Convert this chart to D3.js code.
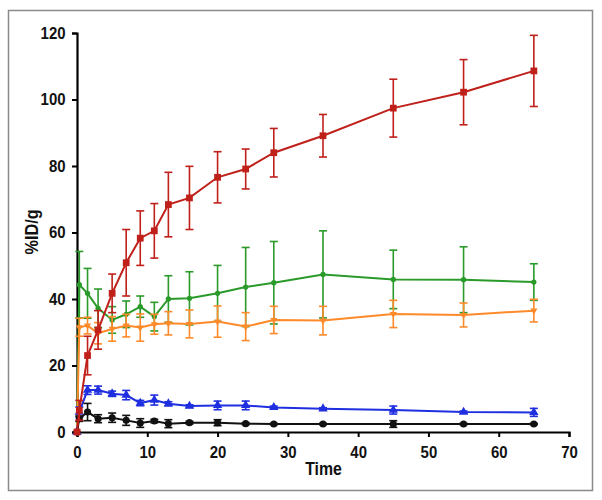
<!DOCTYPE html>
<html><head><meta charset="utf-8">
<script src="https://cdn.jsdelivr.net/npm/d3@7"></script>
<style>body{margin:0;background:#fff}svg{display:block}</style>
</head><body>
<svg id="c" width="602" height="500"></svg>
<script>
const times = [0, 0.33, 1.5, 3, 5, 7, 9, 11, 13, 16, 20, 24, 28, 35, 45, 55, 65];
const red = [0, 6.5, 23.0, 30.7, 41.7, 50.9, 58.3, 60.5, 68.4, 70.4, 76.6, 79.1, 84.0, 89.1, 97.4, 102.2, 108.6];
const redErr = [0, 3, 5.8, 5.8, 5.8, 10, 8.2, 8.2, 9.7, 9.5, 7.7, 6, 7.3, 6.4, 8.7, 9.8, 10.7];
const green = [0, 44.3, 41.7, 37.2, 33.7, 35.4, 37.7, 34.7, 40.0, 40.2, 41.7, 43.6, 44.9, 47.4, 45.9, 45.8, 45.1];
const greenErr = [0, 10, 7.5, 5.8, 4, 4, 3.2, 4.3, 7, 8, 8.4, 11.9, 12.4, 13.1, 8.8, 9.9, 5.5];
const orange = [0, 31.5, 32.0, 29.7, 31.0, 32.0, 31.4, 32.4, 32.7, 32.5, 33.2, 31.7, 33.7, 33.5, 35.5, 35.2, 36.5];
const orangeErr = [0, 2.7, 2.5, 3.2, 3.7, 3.4, 4.1, 3.0, 3.5, 4.2, 4.7, 4.2, 4.1, 4.3, 4.1, 3.6, 3.4];
const blue = [0, 6.0, 12.6, 12.6, 11.5, 11.1, 8.7, 9.6, 8.5, 7.8, 8.0, 8.0, 7.4, 7.0, 6.6, 6.0, 5.9];
const blueErr = [0, 1.5, 1.3, 1.2, 0.8, 1.4, 0.8, 1.5, 0.6, 0.4, 1.3, 1.3, 0.4, 0.3, 1.2, 0.3, 1.2];
const black = [0, 4.0, 6.0, 4.0, 4.3, 3.5, 2.7, 3.3, 2.5, 2.8, 2.8, 2.5, 2.4, 2.4, 2.4, 2.4, 2.4];
const blackErr = [0, 0.8, 2.6, 1.2, 1.4, 1.5, 1.3, 0.5, 1.2, 0.4, 0.9, 0.3, 0.2, 0.2, 1.0, 0.2, 0.2];
const xTicks = [0, 10, 20, 30, 40, 50, 60, 70];
const yTicks = [0, 20, 40, 60, 80, 100, 120];

const series = [
  {vals: green, err: greenErr, color: "#2a9a2a", sym: d3.symbolCircle, size: 22, rot: 0},
  {vals: orange, err: orangeErr, color: "#ff8a2a", sym: d3.symbolTriangle, size: 22, rot: 180},
  {vals: blue, err: blueErr, color: "#1f2fe0", sym: d3.symbolTriangle, size: 38, rot: 0},
  {vals: black, err: blackErr, color: "#111111", sym: d3.symbolCircle, size: 40, rot: 0},
  {vals: red, err: redErr, color: "#c0201a", sym: d3.symbolSquare, size: 46, rot: 0}
];

const svg = d3.select("#c");
svg.append("rect").attr("x", 8.5).attr("y", 10.5).attr("width", 584).attr("height", 480)
  .attr("fill", "none").attr("stroke", "#8a8a8a").attr("stroke-width", 1.5);

const x = d3.scaleLinear().domain([0, 70]).range([77, 569]);
const y = d3.scaleLinear().domain([0, 120]).range([432, 33]);

const font = "'Liberation Sans',Arial,sans-serif";
const sx = 0.88;

const gx = svg.append("g").attr("transform", "translate(0,432)")
  .call(d3.axisBottom(x).tickValues(xTicks).tickSize(5).tickPadding(9));
const gy = svg.append("g").attr("transform", "translate(77,0)")
  .call(d3.axisLeft(y).tickValues(yTicks).tickSize(5).tickPadding(8));
[gx, gy].forEach(g => {
  g.select(".domain").attr("stroke", "#000").attr("stroke-width", 2.2);
  g.selectAll(".tick line").attr("stroke", "#000").attr("stroke-width", 2);
  g.selectAll(".tick text").attr("fill", "#111").style("font-family", font)
    .style("font-size", "17px").style("font-weight", "bold")
    .attr("transform", `scale(${sx},1)`);
});

svg.append("text").attr("transform", `translate(323.5,475) scale(${sx},1)`).attr("text-anchor", "middle")
  .style("font-family", font).style("font-size", "18px").style("font-weight", "bold")
  .attr("fill", "#111").text("Time");
svg.append("text").attr("transform", `translate(38,232) rotate(-90) scale(${sx},1)`).attr("text-anchor", "middle")
  .style("font-family", font).style("font-size", "18.5px").style("font-weight", "bold")
  .attr("fill", "#111").text("%ID/g");

const line = d3.line().x((d, i) => x(times[i])).y(d => y(d));

series.forEach(s => {
  const g = svg.append("g");
  const pts = s.vals.map((v, i) => ({t: times[i], v, e: s.err[i]}));
  pts.filter(p => p.e > 0).forEach(p => {
    const cx = x(p.t), y1 = y(p.v + p.e), y2 = y(p.v - p.e);
    g.append("line").attr("x1", cx).attr("x2", cx).attr("y1", y1).attr("y2", y2)
      .attr("stroke", s.color).attr("stroke-width", 1.6);
    [y1, y2].forEach(yy => g.append("line").attr("x1", cx - 4).attr("x2", cx + 4)
      .attr("y1", yy).attr("y2", yy).attr("stroke", s.color).attr("stroke-width", 1.6));
  });
  g.append("path").datum(s.vals).attr("d", line).attr("fill", "none")
    .attr("stroke", s.color).attr("stroke-width", 2);
  g.selectAll("path.m").data(pts).join("path").attr("class", "m")
    .attr("d", d3.symbol().type(s.sym).size(s.size))
    .attr("transform", p => `translate(${x(p.t)},${y(p.v)}) rotate(${s.rot})`)
    .attr("fill", s.color);
});
</script>
</body></html>
